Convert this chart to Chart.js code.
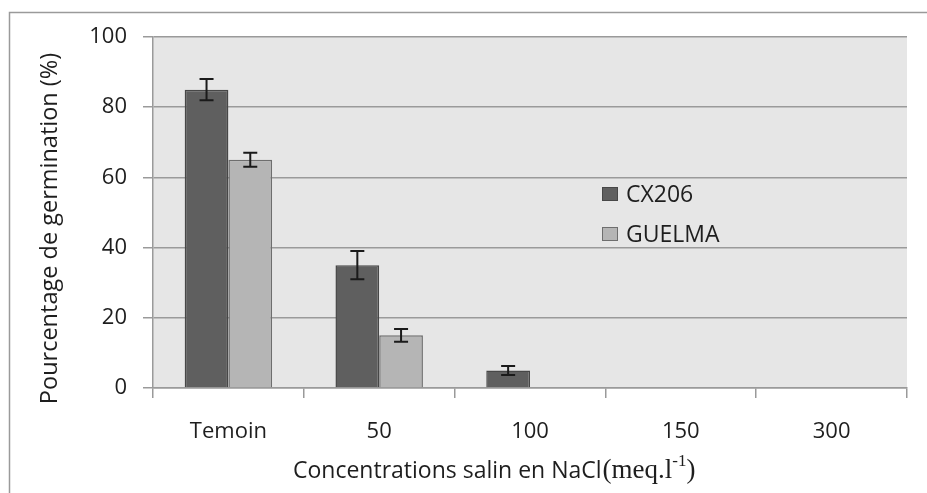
<!DOCTYPE html>
<html>
<head>
<meta charset="utf-8">
<script src="https://cdn.jsdelivr.net/npm/chart.js@4/dist/chart.umd.min.js"></script>
<style>
  html, body { margin: 0; padding: 0; background: #fff; }
  #wrap { position: relative; width: 927px; height: 493px; }
</style>
</head>
<body>
<div id="wrap"><canvas id="chart" width="927" height="493"></canvas></div>
<script>
// data
const categories = ['Temoin', '50', '100', '150', '300'];
const cx206 = [85, 35, 5, 0, 0];
const cx206Err = [3, 4, 1.3, 0, 0];
const guelma = [65, 15, 0, 0, 0];
const guelmaErr = [2, 1.8, 0, 0, 0];
const yTicks = [0, 20, 40, 60, 80, 100];

const seriesNames = ['CX206', 'GUELMA'];
const fillColors = ['#5f5f5f', '#b5b5b5'];
const borderColors = ['#474747', '#6e6e6e'];
const errors = [cx206Err, guelmaErr];

const font = "'Open Sans', sans-serif";
const yTitle = 'Pourcentage de germination (%)';

// frame + grey plot background
const backdrop = {
  id: 'backdrop',
  beforeDraw(chart) {
    const { ctx, chartArea: a } = chart;
    ctx.save();
    ctx.fillStyle = '#e6e6e6';
    ctx.fillRect(a.left, a.top, a.right - a.left, a.bottom - a.top);
    ctx.strokeStyle = '#9a9a9a';
    ctx.lineWidth = 1.5;
    ctx.beginPath();
    ctx.moveTo(9.5, chart.height + 5);
    ctx.lineTo(9.5, 12.5);
    ctx.lineTo(chart.width + 5, 12.5);
    ctx.stroke();
    ctx.restore();
  }
};

// error bars through the y scale
const errorBars = {
  id: 'errorBars',
  afterDatasetsDraw(chart) {
    const { ctx } = chart;
    const y = chart.scales.y;
    ctx.save();
    chart.data.datasets.forEach((ds, di) => {
      const meta = chart.getDatasetMeta(di);
      meta.data.forEach((bar, i) => {
        const e = errors[di][i];
        if (!e) return;
        const v = ds.data[i];
        const yt = y.getPixelForValue(v + e);
        const yb = y.getPixelForValue(v - e);
        ctx.strokeStyle = '#1a1a1a';
        ctx.lineWidth = 2;
        ctx.beginPath();
        ctx.moveTo(bar.x, yt); ctx.lineTo(bar.x, yb);
        ctx.moveTo(bar.x - 7, yt); ctx.lineTo(bar.x + 7, yt);
        ctx.moveTo(bar.x - 7, yb); ctx.lineTo(bar.x + 7, yb);
        ctx.stroke();
      });
    });
    ctx.restore();
  }
};

// legend inside the plot, axis titles
const extras = {
  id: 'extras',
  afterDraw(chart) {
    const { ctx, chartArea: a } = chart;
    ctx.save();
    const lx = a.left + 449, ly = [a.top + 157, a.top + 197];
    seriesNames.forEach((name, i) => {
      ctx.fillStyle = fillColors[i];
      ctx.strokeStyle = borderColors[i];
      ctx.lineWidth = 1;
      ctx.fillRect(lx, ly[i] - 7, 16, 14);
      ctx.strokeRect(lx + 0.5, ly[i] - 6.5, 15, 13);
      ctx.fillStyle = '#1e1e1e';
      ctx.font = `23px ${font}`;
      ctx.textBaseline = 'middle';
      ctx.fillText(name, lx + 24, ly[i] + 1);
    });

    // y title, a little below the plot's middle as in the source
    ctx.save();
    ctx.translate(50, (a.top + a.bottom) / 2 + 16);
    ctx.rotate(-Math.PI / 2);
    ctx.textAlign = 'center';
    ctx.textBaseline = 'middle';
    ctx.font = `23.5px ${font}`;
    ctx.fillText(yTitle, 0, 0);
    ctx.restore();

    const x0 = a.left + 140, base = a.bottom + 90;
    ctx.textBaseline = 'alphabetic';
    ctx.fillStyle = '#1e1e1e';
    ctx.font = `23px ${font}`;
    const t1 = 'Concentrations salin en NaCl';
    ctx.fillText(t1, x0, base);
    let x = x0 + ctx.measureText(t1).width + 1;
    ctx.font = "27px 'Liberation Serif', serif";
    ctx.fillText('(meq.l', x, base);
    x += ctx.measureText('(meq.l').width;
    ctx.font = "17px 'Liberation Serif', serif";
    ctx.fillText('-1', x, base - 12);
    x += ctx.measureText('-1').width;
    ctx.font = "27px 'Liberation Serif', serif";
    ctx.fillText(')', x, base);
    ctx.restore();
  }
};

new Chart(document.getElementById('chart'), {
  type: 'bar',
  data: {
    labels: categories,
    datasets: [
      { label: seriesNames[0], data: cx206, backgroundColor: fillColors[0], borderColor: borderColors[0], borderWidth: 1.5 },
      { label: seriesNames[1], data: guelma, backgroundColor: fillColors[1], borderColor: borderColors[1], borderWidth: 1.5 }
    ]
  },
  options: {
    responsive: false,
    animation: false,
    layout: { padding: { left: 0, top: 37, right: 20, bottom: 0 } },
    datasets: { bar: { barPercentage: 1, categoryPercentage: 0.58 } },
    plugins: { legend: { display: false }, tooltip: { enabled: false } },
    scales: {
      x: {
        grid: { offset: true, drawOnChartArea: false, drawTicks: true, tickLength: 10, color: '#9a9a9a', lineWidth: 1.5 },
        border: { color: '#9a9a9a', width: 1.5 },
        ticks: { padding: 21, color: '#1e1e1e', font: { family: font, size: 22 } },
        afterFit(s) { s.height = 105; }
      },
      y: {
        min: 0, max: 100,
        afterBuildTicks(s) { s.ticks = yTicks.map(v => ({ value: v })); },
        grid: { color: '#9a9a9a', lineWidth: 1.5, tickLength: 10 },
        border: { color: '#9a9a9a', width: 1.5 },
        ticks: { padding: 16, color: '#1e1e1e', font: { family: font, size: 22 } },
        afterFit(s) { s.width = 153; }
      }
    }
  },
  plugins: [backdrop, errorBars, extras]
});
</script>
</body>
</html>
